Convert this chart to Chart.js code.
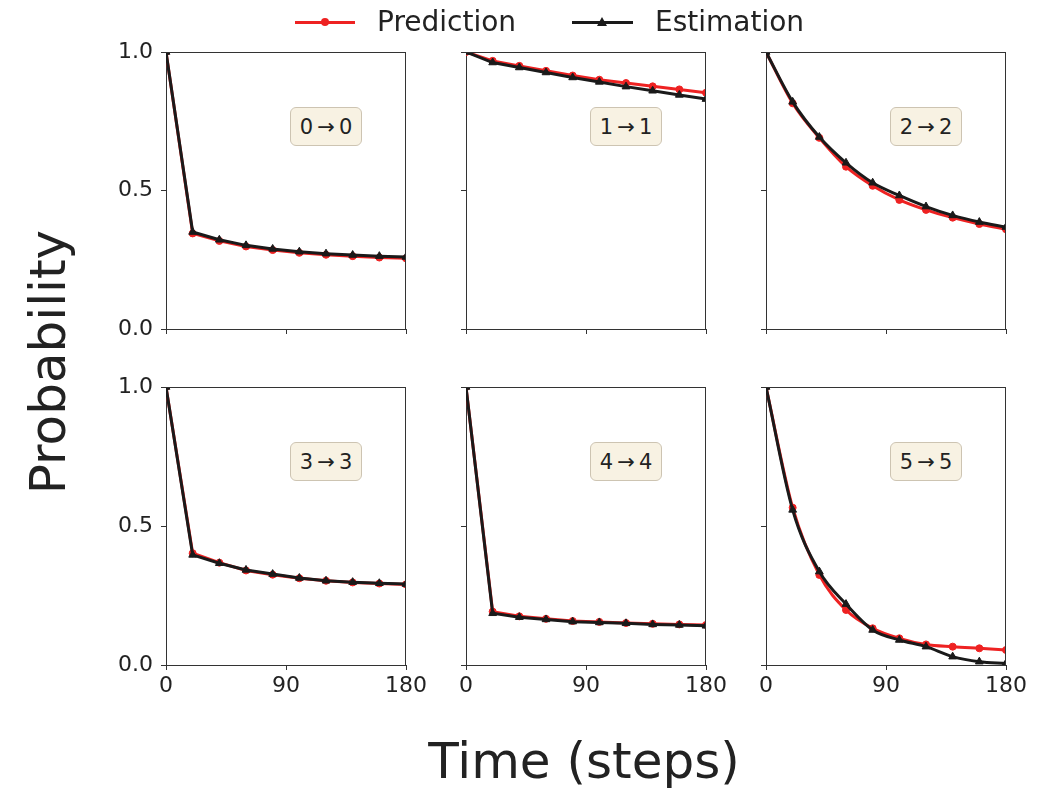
<!DOCTYPE html>
<html>
<head>
<meta charset="utf-8">
<script src="https://cdn.jsdelivr.net/npm/chart.js@4.4.0/dist/chart.umd.min.js"></script>
<style>
  html, body { margin: 0; padding: 0; background: #fff; }
  body { width: 1048px; height: 795px; position: relative; overflow: hidden; font-family: 'DejaVu Sans', sans-serif; color: #222; }
  canvas { position: absolute; }
  .ann { position: absolute; width: 72px; height: 39px; box-sizing: border-box; background: #f8f2e3; border: 1px solid #cdc4b2; border-radius: 6px; display: flex; align-items: center; justify-content: center; font-size: 21px; color: #222; white-space: nowrap; }
  .lbl { position: absolute; white-space: nowrap; color: #222; }
</style>
</head>
<body>
<script>
// ---- data ----
const timeSteps = [0, 20, 40, 60, 80, 100, 120, 140, 160, 180];
const xTicks = [0, 90, 180];
const yTicks = [0, 0.5, 1.0];
const transitions = ['0\u2009\u2192\u20090', '1\u2009\u2192\u20091', '2\u2009\u2192\u20092', '3\u2009\u2192\u20093', '4\u2009\u2192\u20094', '5\u2009\u2192\u20095'];
const seriesNames = ['Prediction', 'Estimation'];

const pred00 = [1.00, 0.345, 0.318, 0.298, 0.285, 0.275, 0.268, 0.263, 0.258, 0.255];
const est00  = [1.00, 0.350, 0.322, 0.302, 0.289, 0.279, 0.272, 0.267, 0.263, 0.260];
const pred11 = [1.00, 0.968, 0.950, 0.932, 0.915, 0.900, 0.888, 0.876, 0.865, 0.853];
const est11  = [1.00, 0.962, 0.944, 0.926, 0.908, 0.892, 0.875, 0.860, 0.845, 0.830];
const pred22 = [1.00, 0.815, 0.690, 0.586, 0.517, 0.466, 0.430, 0.402, 0.379, 0.360];
const est22  = [1.00, 0.820, 0.693, 0.600, 0.528, 0.482, 0.442, 0.410, 0.386, 0.368];
const pred33 = [1.00, 0.402, 0.368, 0.340, 0.325, 0.312, 0.303, 0.297, 0.293, 0.290];
const est33  = [1.00, 0.396, 0.366, 0.342, 0.327, 0.313, 0.303, 0.298, 0.294, 0.291];
const pred44 = [1.00, 0.192, 0.175, 0.166, 0.158, 0.155, 0.151, 0.148, 0.146, 0.144];
const est44  = [1.00, 0.186, 0.172, 0.164, 0.156, 0.153, 0.150, 0.146, 0.144, 0.141];
const pred55 = [1.00, 0.566, 0.324, 0.198, 0.132, 0.096, 0.074, 0.066, 0.060, 0.054];
const est55  = [1.00, 0.558, 0.336, 0.219, 0.126, 0.090, 0.066, 0.030, 0.012, 0.006];

const predictions = [pred00, pred11, pred22, pred33, pred44, pred55];
const estimations = [est00, est11, est22, est33, est44, est55];
const smoothPanels = [false, false, true, false, false, true];

// ---- layout ----
const RED = '#ee2222';
const BLACK = '#1a1a1a';
const AXIS = '#333333';
const colLeft = [166, 466, 766];
const rowTop = [52, 387];
const plotW = 240;
const rowH = [277, 278];
const YW = 60, XH = 45, PT = 14, PR = 30;

const framePlugin = {
  id: 'frame',
  afterDatasetsDraw(chart) {
    const {ctx, chartArea: a} = chart;
    ctx.save();
    ctx.strokeStyle = AXIS;
    ctx.lineWidth = 1;
    ctx.beginPath();
    ctx.moveTo(a.left, Math.round(a.top) + 0.5);
    ctx.lineTo(a.right, Math.round(a.top) + 0.5);
    ctx.moveTo(Math.round(a.right) - 0.5, a.top);
    ctx.lineTo(Math.round(a.right) - 0.5, a.bottom);
    ctx.stroke();
    ctx.restore();
  }
};

function zeroPad(s) { s.paddingTop = 0; s.paddingBottom = 0; s.paddingLeft = 0; s.paddingRight = 0; }

function pts(arr) { return timeSteps.map((t, i) => ({x: t, y: arr[i]})); }

function makePanel(idx) {
  const col = idx % 3, row = Math.floor(idx / 3);
  const L = colLeft[col], T = rowTop[row], H = rowH[row];
  const cv = document.createElement('canvas');
  const w = YW + plotW + PR, h = PT + H + XH;
  cv.width = w; cv.height = h;
  cv.style.width = w + 'px'; cv.style.height = h + 'px';
  cv.style.left = (L - YW) + 'px';
  cv.style.top = (T - PT) + 'px';
  document.body.appendChild(cv);

  const smooth = smoothPanels[idx] ? 'monotone' : 'default';
  new Chart(cv, {
    type: 'line',
    data: {
      datasets: [
        { label: seriesNames[1], data: pts(estimations[idx]), borderColor: BLACK, backgroundColor: BLACK,
          borderWidth: 3, pointStyle: 'triangle', pointRadius: 4.5, pointBorderWidth: 1, order: 1,
          cubicInterpolationMode: smooth },
        { label: seriesNames[0], data: pts(predictions[idx]), borderColor: RED, backgroundColor: RED,
          borderWidth: 3, pointStyle: 'circle', pointRadius: 3.5, pointBorderWidth: 1, order: 2,
          cubicInterpolationMode: smooth }
      ]
    },
    options: {
      responsive: false, animation: false, devicePixelRatio: 1,
      layout: { autoPadding: false, padding: { left: 0, top: PT, right: PR, bottom: 0 } },
      plugins: { legend: { display: false }, tooltip: { enabled: false } },
      scales: {
        x: {
          type: 'linear', min: 0, max: 180,
          afterBuildTicks: s => { s.ticks = xTicks.map(v => ({ value: v })); },
          afterFit: s => { s.height = XH; zeroPad(s); },
          ticks: { display: row === 1, autoSkip: false, maxRotation: 0, padding: 3, color: '#222',
                   font: { family: 'DejaVu Sans', size: 22 } },
          grid: { drawOnChartArea: false, drawTicks: true, tickLength: 5, color: AXIS },
          border: { display: true, color: AXIS, width: 1 }
        },
        y: {
          type: 'linear', min: 0, max: 1,
          afterBuildTicks: s => { s.ticks = yTicks.map(v => ({ value: v })); },
          afterFit: s => { s.width = YW; zeroPad(s); },
          ticks: { display: col === 0, padding: 8, color: '#222', callback: v => Number(v).toFixed(1),
                   font: { family: 'DejaVu Sans', size: 22 } },
          grid: { drawOnChartArea: false, drawTicks: true, tickLength: 5, color: AXIS },
          border: { display: true, color: AXIS, width: 1 }
        }
      }
    },
    plugins: [framePlugin]
  });

  const ann = document.createElement('div');
  ann.className = 'ann';
  ann.textContent = transitions[idx];
  ann.style.left = (L + 160 - 36) + 'px';
  ann.style.top = (T + 74 - 19) + 'px';
  document.body.appendChild(ann);
}

for (let i = 0; i < 6; i++) makePanel(i);

// ---- legend ----
function addDiv(style, text, cls) {
  const d = document.createElement('div');
  if (cls) d.className = cls;
  Object.assign(d.style, { position: 'absolute' }, style);
  if (text) d.textContent = text;
  document.body.appendChild(d);
  return d;
}
addDiv({ left: '295px', top: '21px', width: '60px', height: '3px', background: RED });
addDiv({ left: '321px', top: '18px', width: '8px', height: '8px', borderRadius: '50%', background: RED });
addDiv({ left: '377px', top: '4px', height: '36px', lineHeight: '36px', fontSize: '28px' }, seriesNames[0], 'lbl');
addDiv({ left: '572px', top: '21px', width: '61px', height: '3px', background: BLACK });
addDiv({ left: '597px', top: '17px', width: '0', height: '0', borderLeft: '5px solid transparent', borderRight: '5px solid transparent', borderBottom: '9px solid ' + BLACK });
addDiv({ left: '655px', top: '4px', height: '36px', lineHeight: '36px', fontSize: '28px' }, seriesNames[1], 'lbl');

// ---- axis titles ----
addDiv({ left: '48px', top: '362px', fontSize: '50px', lineHeight: '60px', transform: 'translate(-50%, -50%) rotate(-90deg)' }, 'Probability', 'lbl');
addDiv({ left: '584px', top: '731px', fontSize: '50px', lineHeight: '60px', transform: 'translateX(-50%)' }, 'Time (steps)', 'lbl');
</script>
</body>
</html>
